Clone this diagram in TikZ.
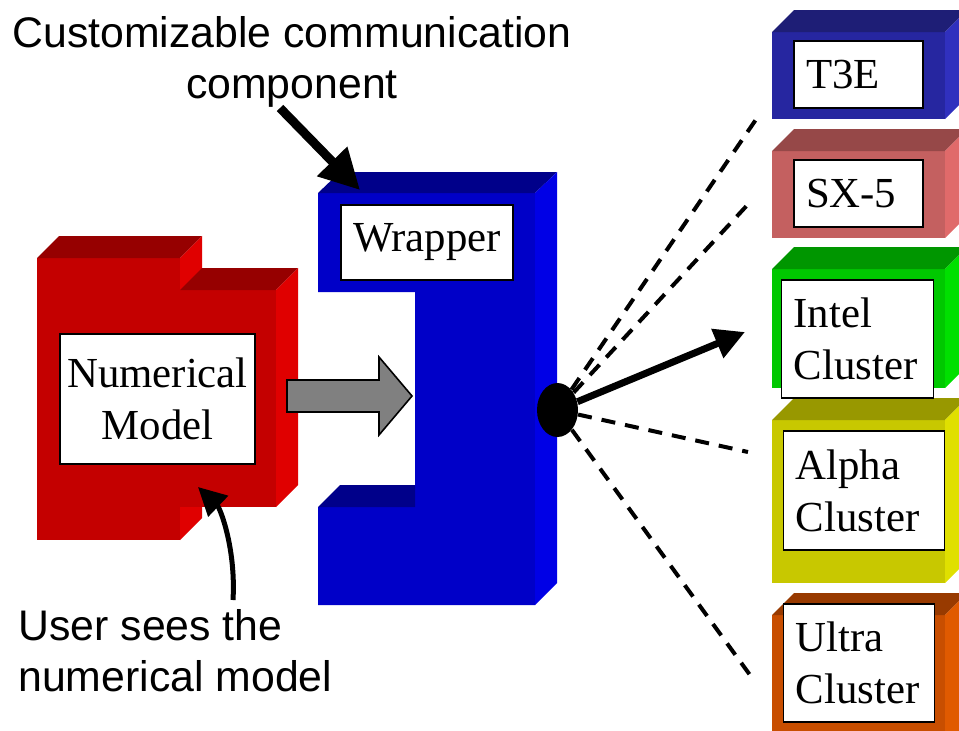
\documentclass[tikz,border=0pt]{standalone}
\usepackage{fontspec}
\setmainfont{Liberation Serif}
\setsansfont{Liberation Sans}
\usetikzlibrary{arrows.meta,shapes.geometric}

% block colours: front, top and side faces
\definecolor{redfront}{RGB}{196,0,0}
\definecolor{redtop}{RGB}{150,0,0}
\definecolor{redside}{RGB}{224,0,0}
\definecolor{wrapfront}{RGB}{0,0,200}
\definecolor{wraptop}{RGB}{0,0,138}
\definecolor{wrapside}{RGB}{0,0,230}
\definecolor{tblufront}{RGB}{38,38,160}
\definecolor{tblutop}{RGB}{30,30,118}
\definecolor{tbluside}{RGB}{48,48,190}
\definecolor{sxrosefront}{RGB}{196,96,96}
\definecolor{sxrosetop}{RGB}{150,72,72}
\definecolor{sxroseside}{RGB}{224,106,106}
\definecolor{igreenfront}{RGB}{0,200,0}
\definecolor{igreentop}{RGB}{0,150,0}
\definecolor{igreenside}{RGB}{0,224,0}
\definecolor{ayellowfront}{RGB}{200,200,0}
\definecolor{ayellowtop}{RGB}{152,152,0}
\definecolor{ayellowside}{RGB}{224,224,0}
\definecolor{uorangefront}{RGB}{200,78,0}
\definecolor{uorangetop}{RGB}{152,58,0}
\definecolor{uorangeside}{RGB}{224,90,0}

% \drawblock{x1}{y1}{x2}{y2}{colour}: front face corners, depth 22 up-right
\newcommand{\drawblock}[5]{%
  \fill[#5front] (#1,#2) rectangle (#3,#4);
  \fill[#5top] (#1,#2) -- ++(22,-22) -- (#3+22,#2-22) -- (#3,#2) -- cycle;
  \fill[#5side] (#3,#2) -- (#3+22,#2-22) -- (#3+22,#4-22) -- (#3,#4) -- cycle;
}

\begin{document}
\begin{tikzpicture}[x=0.5pt,y=-0.5pt,
  lbox/.style={draw, fill=white, line width=0.7pt, align=center, inner sep=0pt,
    font=\fontsize{21.4}{26}\selectfont},
  hostbox/.style={draw, fill=white, line width=0.7pt, align=left, inner xsep=6pt,
    inner ysep=0pt, text width=#1, font=\fontsize{21.4}{26}\selectfont},
  note/.style={inner sep=0pt, font=\sffamily\fontsize{21.4}{25.5}\selectfont},
  dashline/.style={dash pattern=on 7pt off 5pt, line width=2pt}]
  \useasboundingbox (0,0) rectangle (959,730);
  \clip (0,0) rectangle (959,730);

  % Numerical model (red block)
  \drawblock{37}{258}{180}{540}{red}
  \drawblock{180}{290}{276}{507}{red}
  \node[lbox, minimum width=97.5pt, minimum height=65pt] (model) at (157.5,399) {Numerical\\Model};

  % Wrapper (blue C-shaped block)
  \fill[wrapfront] (318,193) -- (535,193) -- (535,605) -- (318,605) -- (318,507)
    -- (415,507) -- (415,292) -- (318,292) -- cycle;
  \fill[wraptop] (318,193) -- (340,172) -- (557,172) -- (535,193) -- cycle;
  \fill[wraptop] (318,507) -- (340,485) -- (415,485) -- (415,507) -- cycle;
  \fill[wrapside] (535,193) -- (557,172) -- (557,583) -- (535,605) -- cycle;
  \node[lbox, minimum width=86pt, minimum height=37.5pt] (wrapper) at (427,242.5) {Wrapper};

  % Grey arrow into the wrapper
  \draw[fill=gray, line width=0.8pt] (287,380) -- (379,380) -- (379,357) -- (412,396)
    -- (379,435) -- (379,412) -- (287,412) -- cycle;

  % Target machines
  \drawblock{772}{32}{945}{119}{tblu}
  \drawblock{772}{151}{945}{238}{sxrose}
  \drawblock{772}{269}{945}{388}{igreen}
  \drawblock{772}{420}{945}{583}{ayellow}
  \drawblock{772}{615}{945}{760}{uorange}
  \node[hostbox=52.5pt, minimum height=33.5pt] (t3e) at (858.5,74.5) {T3E};
  \node[hostbox=52.5pt, minimum height=33.5pt] (sx5) at (858.5,193.5) {SX-5};
  \node[hostbox=63.8pt, minimum height=59pt] (intel) at (857.5,339) {Intel\\Cluster};
  \node[hostbox=68.3pt, minimum height=59.5pt] (alpha) at (864,490.5) {Alpha\\Cluster};
  \node[hostbox=63.3pt, minimum height=59pt] (ultra) at (859,663) {Ultra\\Cluster};

  % Connection point and links
  \coordinate (toT3E) at (757,118);
  \coordinate (toSX) at (752,200);
  \coordinate (toIntel) at (745,332);
  \coordinate (toAlpha) at (748,452);
  \coordinate (toUltra) at (750,675);
  \node[ellipse, fill=black, inner sep=0pt, minimum width=20.5pt, minimum height=27pt] (dot) at (557.5,410) {};
  \draw[dashline] (dot) -- (toT3E);
  \draw[dashline] (dot) -- (toSX);
  \draw[dashline] (dot) -- (toAlpha);
  \draw[dashline] (dot) -- (toUltra);
  \draw[-{Triangle[length=15pt,width=15pt]}, line width=3.5pt] (dot) -- (toIntel);

  % Annotations
  \node[note, align=center] (title) at (292,62) {Customizable communication\\component};
  \coordinate (compfoot) at (280,108);
  \coordinate (wrapedge) at (360,190);
  \draw[-{Triangle[length=20pt,width=20pt]}, line width=4.5pt] (compfoot) -- (wrapedge);

  \node[note, align=left, anchor=north west] (usernote) at (18,609) {User sees the\\numerical model};
  \coordinate (userfoot) at (233,600);
  \coordinate (modeledge) at (198,487);
  \draw[-{Triangle[length=14pt,width=14pt]}, line width=2.5pt] (userfoot)
    .. controls (236,548) and (220,508) .. (modeledge);
\end{tikzpicture}
\end{document}
